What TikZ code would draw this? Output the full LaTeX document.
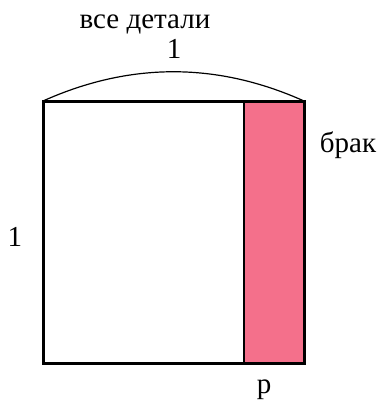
\documentclass[tikz,border=0pt]{standalone}
\usepackage{fontspec}
\setmainfont{Liberation Serif}
\newfontfamily\timesfont{Liberation Serif}
\usetikzlibrary{positioning,calc}
\definecolor{brakpink}{HTML}{F4708B}
\tikzset{
  edge/.style={draw=black, line width=3pt},
  split/.style={draw=black, line width=2pt},
  lab/.style={font=\timesfont\fontsize{29pt}{34pt}\selectfont, inner sep=0pt, anchor=base},
}
\begin{document}
\begin{tikzpicture}[x=1pt, y=-1pt]
  \useasboundingbox (0,0) rectangle (382,405);
  % square
  \coordinate (tl) at (43,101);
  \coordinate (tr) at (304,101);
  \coordinate (bl) at (43,363);
  \coordinate (br) at (304,363);
  \coordinate (mt) at (244,101);
  \coordinate (mb) at (244,363);
  \fill[brakpink] (mt) rectangle (br);
  \draw[split] (mt) -- (mb);
  \draw[edge] (tl) rectangle (br);
  % arc over top
  \draw[line width=1.2pt] (tl) .. controls (130,62) and (217,62) .. (tr);
  % labels
  \node[lab] (all) at (145,28) {все детали};
  \node[lab] (one) at (174,58) {1};
  \node[lab] (brak) at (348,152) {брак};
  \node[lab] (side) at (15,246) {1};
  \node[lab] (p) at (264,393) {p};
\end{tikzpicture}
\end{document}
